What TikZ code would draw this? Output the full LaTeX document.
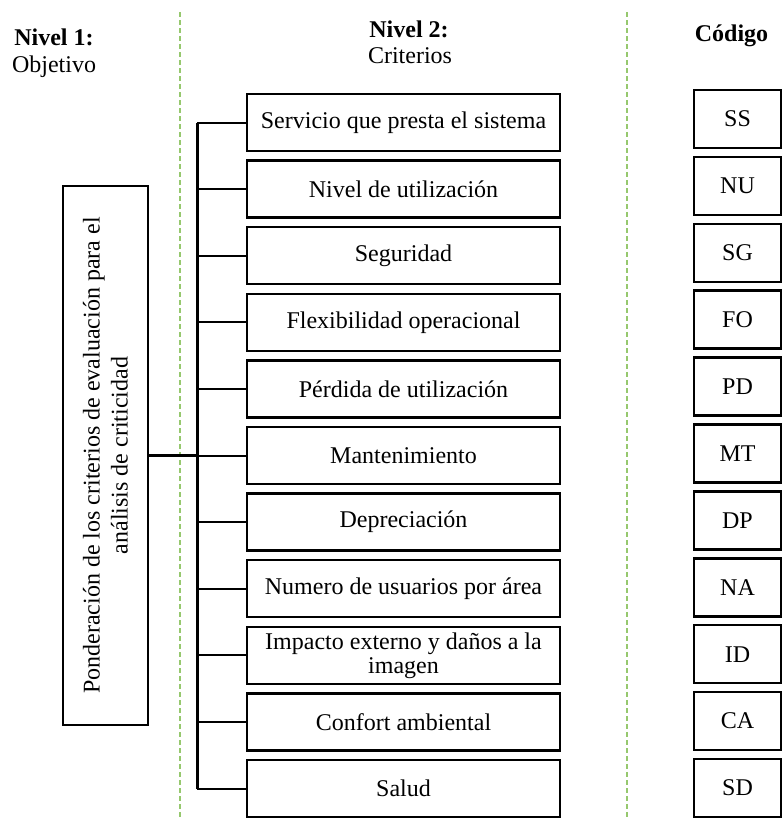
\documentclass[tikz,border=0pt]{standalone}
\usepackage{fontspec}
\setmainfont{Liberation Serif}
\definecolor{guide}{RGB}{150,200,110}
\tikzset{
  txt/.style={font=\fontsize{24}{27}\selectfont, inner sep=0pt},
  critbox/.style={draw, line width=2.5pt, minimum width=313pt, minimum height=57pt,
    align=center, font=\fontsize{24}{24}\selectfont, inner sep=0pt},
  codebox/.style={draw, line width=2.5pt, minimum width=87pt, minimum height=58pt,
    font=\fontsize{24}{24}\selectfont, inner sep=0pt},
  objbox/.style={draw, line width=2.5pt, rotate=90, minimum width=539pt, minimum height=85pt,
    align=center, font=\fontsize{24}{28}\selectfont, inner sep=0pt},
  guideline/.style={draw=guide, line width=1.6pt, dash pattern=on 5pt off 3pt},
  bus/.style={line width=3pt},
  stub/.style={line width=2pt},
}
\begin{document}
\begin{tikzpicture}[x=1pt, y=-1pt]
\useasboundingbox (0,0) rectangle (783,819);

% level separators
\coordinate (g1t) at (180,12);  \coordinate (g1b) at (180,819);
\coordinate (g2t) at (627,12);  \coordinate (g2b) at (627,819);
\draw[guideline] (g1t) -- (g1b);
\draw[guideline] (g2t) -- (g2b);

% column headings
\node[txt, anchor=base, font=\fontsize{24}{27}\selectfont\bfseries] (h1a) at (54,45) {Nivel 1:};
\node[txt, anchor=base] (h1b) at (54,72) {Objetivo};
\node[txt, anchor=base, font=\fontsize{24}{27}\selectfont\bfseries] (h2a) at (409,37) {Nivel 2:};
\node[txt, anchor=base] (h2b) at (410,63) {Criterios};
\node[txt, anchor=base, font=\fontsize{24}{27}\selectfont\bfseries] (h3) at (731.5,41) {Código};

% objective
\node[objbox] (obj) at (105.5,455.5) {Ponderación de los criterios de evaluación para el\\análisis de criticidad};

% criteria and their codes
\foreach \i/\crit/\code in {
  1/{Servicio que presta el sistema}/SS,
  2/{Nivel de utilización}/NU,
  3/{Seguridad}/SG,
  4/{Flexibilidad operacional}/FO,
  5/{Pérdida de utilización}/PD,
  6/{Mantenimiento}/MT,
  7/{Depreciación}/DP,
  8/{Numero de usuarios por área}/NA,
  9/{Impacto externo y daños a la\\imagen}/ID,
  10/{Confort ambiental}/CA,
  11/{Salud}/SD}{
  \node[critbox] (c\i) at (403.5,{122.5+66.6*(\i-1)}) {\crit};
  \node[codebox] (k\i) at (737.5,{119+66.9*(\i-1)}) {\code};
}

% tree connectors
\coordinate (bx) at (197,0);
\draw[bus] (c1.west -| bx) -- (c11.west -| bx);
\draw[bus] (obj.south) -- (obj.south -| bx);
\foreach \i in {1,...,11}{
  \draw[stub] (c\i.west -| bx) -- (c\i.west);
}
\end{tikzpicture}
\end{document}
